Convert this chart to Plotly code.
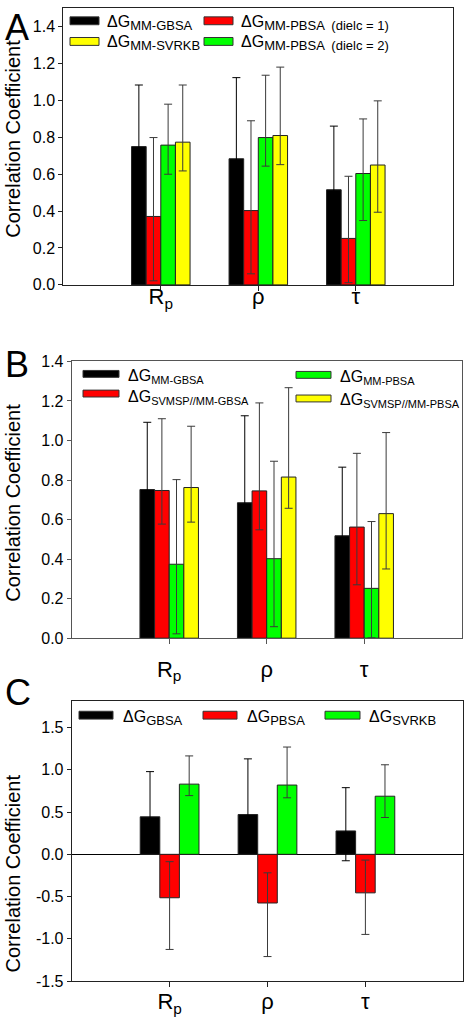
import plotly.graph_objects as go

W, H = 465, 1035
FONT = "Liberation Sans, Arial, sans-serif"

# ---------------- data ----------------
categories = [0, 1, 2]
cat_labels = ["R<sub>p</sub>", "ρ", "τ"]

# Panel A
A_gbsa = [0.750, 0.684, 0.516]
A_gbsa_up = [0.334, 0.440, 0.345]
A_gbsa_dn = [0.334, 0.440, 0.345]
A_pbsa1 = [0.371, 0.403, 0.252]
A_pbsa1_up = [0.428, 0.487, 0.337]
A_pbsa1_dn = [0.349, 0.343, 0.240]
A_pbsa2 = [0.758, 0.799, 0.604]
A_pbsa2_up = [0.222, 0.338, 0.296]
A_pbsa2_dn = [0.158, 0.155, 0.255]
A_svrkb = [0.774, 0.810, 0.650]
A_svrkb_up = [0.310, 0.371, 0.348]
A_svrkb_dn = [0.156, 0.158, 0.256]

# Panel B
B_gbsa = [0.752, 0.685, 0.518]
B_gbsa_up = [0.340, 0.440, 0.347]
B_gbsa_dn = [0.340, 0.440, 0.347]
B_svmsp_gbsa = [0.747, 0.745, 0.562]
B_svmsp_gbsa_up = [0.363, 0.445, 0.373]
B_svmsp_gbsa_dn = [0.170, 0.197, 0.292]
B_pbsa = [0.374, 0.402, 0.252]
B_pbsa_up = [0.428, 0.493, 0.338]
B_pbsa_dn = [0.352, 0.344, 0.250]
B_svmsp_pbsa = [0.762, 0.815, 0.630]
B_svmsp_pbsa_up = [0.310, 0.452, 0.410]
B_svmsp_pbsa_dn = [0.175, 0.158, 0.280]

# Panel C
C_gbsa = [0.444, 0.471, 0.277]
C_gbsa_up = [0.535, 0.659, 0.512]
C_gbsa_dn = [0.300, 0.300, 0.353]
C_pbsa = [-0.514, -0.576, -0.456]
C_pbsa_up = [0.427, 0.357, 0.388]
C_pbsa_dn = [0.612, 0.634, 0.492]
C_svrkb = [0.831, 0.820, 0.688]
C_svrkb_up = [0.334, 0.450, 0.372]
C_svrkb_dn = [0.136, 0.151, 0.252]

yticks_AB = [0.0, 0.2, 0.4, 0.6, 0.8, 1.0, 1.2, 1.4]
yticks_AB_text = ["0.0", "0.2", "0.4", "0.6", "0.8", "1.0", "1.2", "1.4"]
yticks_C = [-1.5, -1.0, -0.5, 0.0, 0.5, 1.0, 1.5]
yticks_C_text = ["-1.5", "-1.0", "-0.5", "0.0", "0.5", "1.0", "1.5"]

BLACK, RED, GREEN, YELLOW = "#000000", "#ff0000", "#00ff00", "#ffff00"


def px(x):
    return x / W


def py(y):
    return 1 - y / H


fig = go.Figure()


def add_bar(ax, vals, up, dn, color):
    xa = "x" if ax == 1 else f"x{ax}"
    ya = "y" if ax == 1 else f"y{ax}"
    ecol = "#000000" if color == BLACK else "#3a3a3a"
    fig.add_trace(go.Bar(
        x=categories, y=vals, xaxis=xa, yaxis=ya,
        marker=dict(color=color, line=dict(color="#222222", width=1)),
        error_y=dict(type="data", symmetric=False, array=up, arrayminus=dn,
                     color=ecol, thickness=1, width=4),
        showlegend=False, hoverinfo="skip",
    ))


add_bar(1, A_gbsa, A_gbsa_up, A_gbsa_dn, BLACK)
add_bar(1, A_pbsa1, A_pbsa1_up, A_pbsa1_dn, RED)
add_bar(1, A_pbsa2, A_pbsa2_up, A_pbsa2_dn, GREEN)
add_bar(1, A_svrkb, A_svrkb_up, A_svrkb_dn, YELLOW)

add_bar(2, B_gbsa, B_gbsa_up, B_gbsa_dn, BLACK)
add_bar(2, B_svmsp_gbsa, B_svmsp_gbsa_up, B_svmsp_gbsa_dn, RED)
add_bar(2, B_pbsa, B_pbsa_up, B_pbsa_dn, GREEN)
add_bar(2, B_svmsp_pbsa, B_svmsp_pbsa_up, B_svmsp_pbsa_dn, YELLOW)

add_bar(3, C_gbsa, C_gbsa_up, C_gbsa_dn, BLACK)
add_bar(3, C_pbsa, C_pbsa_up, C_pbsa_dn, RED)
add_bar(3, C_svrkb, C_svrkb_up, C_svrkb_dn, GREEN)


def xaxis(left, right, anchor, frame_col, standoff):
    return dict(domain=[px(left), px(right)], anchor=anchor, range=[-1, 3],
                tickvals=categories, ticktext=cat_labels,
                tickfont=dict(family=FONT, size=22, color="black"),
                ticks="outside", ticklen=5, tickcolor=frame_col,
                ticklabelstandoff=standoff,
                showline=True, linecolor=frame_col, linewidth=1, mirror=True,
                showgrid=False, zeroline=False, fixedrange=True)


def yaxis(top, bottom, anchor, rng, tv, tt, frame_col, zl=False):
    return dict(domain=[py(bottom), py(top)], anchor=anchor, range=rng,
                tickvals=tv, ticktext=tt,
                tickfont=dict(family=FONT, size=16, color="black"),
                ticks="outside", ticklen=4, tickcolor=frame_col,
                showline=True, linecolor=frame_col, linewidth=1, mirror=True,
                showgrid=False, zeroline=zl, zerolinecolor="black", zerolinewidth=1,
                fixedrange=True)


fig.update_layout(
    width=W, height=H, margin=dict(l=0, r=0, t=0, b=0),
    paper_bgcolor="white", plot_bgcolor="white",
    barmode="group", bargap=0.4, bargroupgap=0,
    xaxis=xaxis(63.3, 453.3, "y", "#222222", -13),
    yaxis=yaxis(0.3, 281.5, "x", [0, 1.5], yticks_AB, yticks_AB_text, "#222222"),
    xaxis2=xaxis(71.7, 461.7, "y2", "#555555", 6),
    yaxis2=yaxis(359.3, 640.7, "x2", [0, 1.4], yticks_AB, yticks_AB_text, "#555555"),
    xaxis3=xaxis(71.7, 463.3, "y3", "#222222", -4),
    yaxis3=yaxis(705, 989.3, "x3", [-1.5, 1.81], yticks_C, yticks_C_text, "#222222", zl=True),
)

annotations = []
shapes = []


def swatch(x0, x1, yc, color, h=8):
    shapes.append(dict(type="rect", xref="paper", yref="paper",
                       x0=px(x0), x1=px(x1), y0=py(yc + h / 2), y1=py(yc - h / 2),
                       fillcolor=color, line=dict(color="#333333", width=1)))


def label(x, yc, text, size=16):
    annotations.append(dict(xref="paper", yref="paper", x=px(x), y=py(yc),
                            xanchor="left", yanchor="middle", showarrow=False,
                            text=text, font=dict(family=FONT, size=size, color="black")))


def sub(t, s=13):
    return f"<sub><span style='font-size:{s}px'>{t}</span></sub>"


# Legend A
swatch(70, 99, 13, BLACK)
label(105, 15, "ΔG" + sub("MM-GBSA"))
swatch(204, 233, 13, RED)
label(239, 15, "ΔG" + sub("MM-PBSA  (dielc = 1)"))
swatch(70, 99, 34, YELLOW)
label(105, 36, "ΔG" + sub("MM-SVRKB"))
swatch(204, 233, 34, GREEN)
label(239, 36, "ΔG" + sub("MM-PBSA  (dielc = 2)"))

# Legend B
swatch(83, 119, 372, BLACK, 7)
label(126, 375, "ΔG" + sub("MM-GBSA", 11))
swatch(83, 119, 392, RED, 7)
label(126, 396, "ΔG" + sub("SVMSP//MM-GBSA", 11))
swatch(296, 331, 373, GREEN, 7)
label(338, 376, "ΔG" + sub("MM-PBSA", 11))
swatch(296, 331, 397, YELLOW, 7)
label(338, 399, "ΔG" + sub("SVMSP//MM-PBSA", 11))

# Legend C
swatch(79, 113, 719, BLACK)
label(121, 722, "ΔG" + sub("GBSA"))
swatch(203, 237, 719, RED)
label(245, 722, "ΔG" + sub("PBSA"))
swatch(325, 360, 719, GREEN)
label(367, 722, "ΔG" + sub("SVRKB"))

# Panel letters
for letter, yc in (("A", 20), ("B", 362), ("C", 696)):
    annotations.append(dict(xref="paper", yref="paper", x=px(3), y=py(yc),
                            xanchor="left", yanchor="middle", showarrow=False,
                            text=letter, font=dict(family=FONT, size=36, color="black")))

# Y-axis titles
for yc in (133, 503, 880):
    annotations.append(dict(xref="paper", yref="paper", x=px(13), y=py(yc),
                            xanchor="center", yanchor="middle", showarrow=False,
                            textangle=-90, text="Correlation Coefficient",
                            font=dict(family=FONT, size=20, color="black")))

fig.update_layout(annotations=annotations, shapes=shapes)

fig.write_html("out.html", config={"displayModeBar": False},
               post_script="document.body.style.margin='0';")
